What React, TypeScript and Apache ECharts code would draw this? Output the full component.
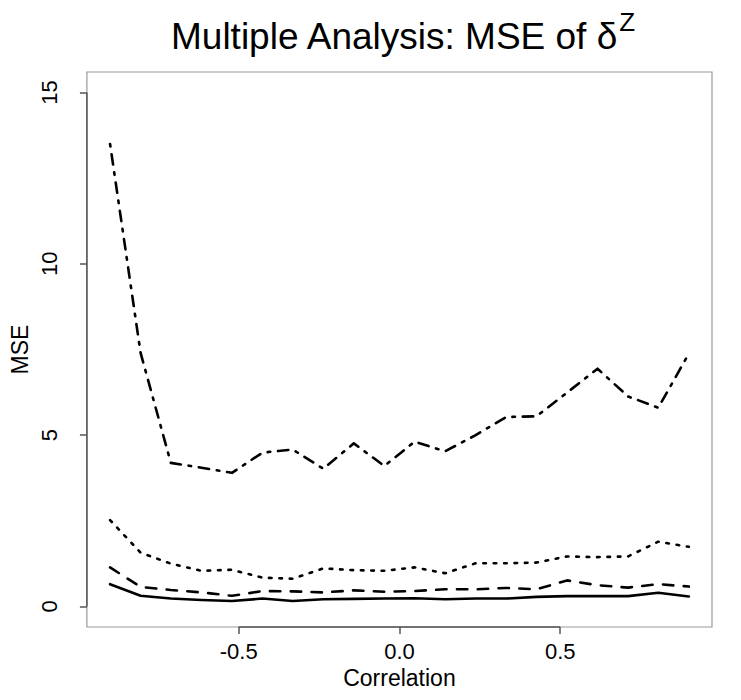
import React, { useEffect, useRef } from "react";
import * as echarts from "echarts";

const correlation = [-0.9, -0.805, -0.711, -0.616, -0.521, -0.426, -0.332, -0.237, -0.142, -0.047, 0.047, 0.142, 0.237, 0.332, 0.426, 0.521, 0.616, 0.711, 0.805, 0.9];
const solidMSE = [0.65, 0.31, 0.23, 0.19, 0.16, 0.23, 0.16, 0.21, 0.22, 0.23, 0.24, 0.21, 0.23, 0.23, 0.28, 0.3, 0.3, 0.3, 0.4, 0.29];
const dashedMSE = [1.14, 0.57, 0.48, 0.41, 0.31, 0.45, 0.44, 0.41, 0.47, 0.43, 0.45, 0.5, 0.5, 0.54, 0.5, 0.76, 0.62, 0.55, 0.65, 0.58];
const dottedMSE = [2.52, 1.57, 1.25, 1.04, 1.07, 0.84, 0.81, 1.11, 1.06, 1.04, 1.14, 0.97, 1.26, 1.26, 1.28, 1.46, 1.44, 1.46, 1.89, 1.74];
const dashDotMSE = [13.5, 7.4, 4.19, 4.05, 3.9, 4.49, 4.58, 4.02, 4.76, 4.1, 4.81, 4.53, 5.0, 5.53, 5.55, 6.24, 6.94, 6.13, 5.8, 7.38];

const xTicks = [-0.5, 0, 0.5];
const yTicks = [0, 5, 10, 15];
const xRange = [-0.972, 0.972];
const yRange = [-0.6, 15.6];

const FONT = "Liberation Sans";
const U = 2.6;

export default function App() {
  const ref = useRef<HTMLDivElement>(null);
  useEffect(() => {
    if (!ref.current) return;
    const chart = echarts.init(ref.current, null, { renderer: "svg" });
    const pairs = (ys: number[]) => correlation.map((x, i) => [x, ys[i]]);
    const lineSeries = (name: string, ys: number[], dash: any) => ({
      name,
      type: "line",
      data: pairs(ys),
      symbol: "none",
      lineStyle: { color: "#000", width: U, type: dash, cap: "round", join: "round" },
      z: 3,
    });
    const axisSeg = (data: number[][]) => ({
      type: "line",
      data,
      symbol: "none",
      silent: true,
      clip: false,
      lineStyle: { color: "#555", width: 1.5, type: "solid" },
      z: 2,
    });
    chart.setOption({
      animation: false,
      backgroundColor: "#fff",
      title: {
        text: "{a|Multiple Analysis: MSE of δ}{b|Z}",
        left: 166,
        top: 4,
        textStyle: {
          rich: {
            a: { fontFamily: FONT, fontSize: 37, fontWeight: "normal", color: "#000", lineHeight: 46, verticalAlign: "bottom" },
            b: { fontFamily: FONT, fontSize: 26, fontWeight: "normal", color: "#000", lineHeight: 26, verticalAlign: "top" },
          },
        },
      },
      grid: { left: 72, right: 29, top: 72, bottom: 73, show: true, borderColor: "#999", borderWidth: 1.2, backgroundColor: "transparent" },
      xAxis: {
        type: "value",
        min: xRange[0],
        max: xRange[1],
        axisLine: { show: false, onZero: false },
        splitLine: { show: false },
        axisTick: { show: true, customValues: xTicks, length: 7, lineStyle: { color: "#555", width: 1.5 } },
        axisLabel: { customValues: xTicks, formatter: (v: number) => v.toFixed(1), fontSize: 22, fontFamily: FONT, color: "#000", margin: 13 },
        name: "Correlation",
        nameLocation: "middle",
        nameGap: 38,
        nameTextStyle: { fontSize: 23, fontFamily: FONT, color: "#000" },
      },
      yAxis: {
        type: "value",
        min: yRange[0],
        max: yRange[1],
        axisLine: { show: false, onZero: false },
        splitLine: { show: false },
        axisTick: { show: true, customValues: yTicks, length: 7, lineStyle: { color: "#555", width: 1.5 } },
        axisLabel: { customValues: yTicks, rotate: 90, fontSize: 22, fontFamily: FONT, color: "#000", margin: 26 },
        name: "MSE",
        nameLocation: "middle",
        nameGap: 55,
        nameRotate: 90,
        nameTextStyle: { fontSize: 23, fontFamily: FONT, color: "#000" },
      },
      series: [
        axisSeg([[xTicks[0], yRange[0]], [xTicks[xTicks.length - 1], yRange[0]]]),
        axisSeg([[xRange[0], yTicks[0]], [xRange[0], yTicks[yTicks.length - 1]]]),
        lineSeries("solid", solidMSE, "solid"),
        lineSeries("dashed", dashedMSE, [4 * U, 4 * U]),
        lineSeries("dotted", dottedMSE, [U, 3 * U]),
        lineSeries("dotdash", dashDotMSE, [U, 3 * U, 4 * U, 3 * U]),
      ],
    });
    return () => chart.dispose();
  }, []);
  return <div ref={ref} style={{ position: "absolute", left: 0, top: 0, width: 741, height: 700, background: "#fff" }} />;
}
